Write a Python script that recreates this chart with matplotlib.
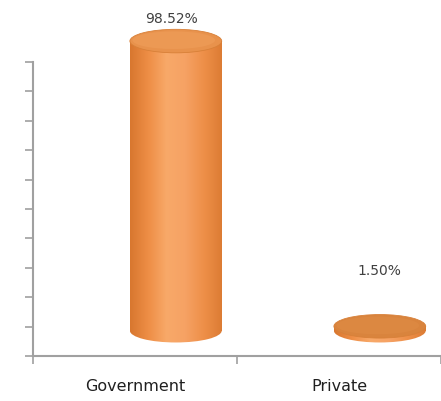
import numpy as np
import matplotlib
matplotlib.use("Agg")
import matplotlib.pyplot as plt
from matplotlib.patches import Ellipse, Rectangle
from matplotlib.colors import LinearSegmentedColormap

categories = ["Government", "Private"]
values = [98.52, 1.50]
value_labels = ["98.52%", "1.50%"]

fig = plt.figure(figsize=(4.41, 4.02), dpi=100)
ax = fig.add_axes([33/441, 45/402, 408/441, 294/402])
ax.set_xlim(-0.5, 1.5)
ax.set_ylim(0, 100)

base = 8.6
dx = 0.2
width = 0.45
eh = 8.0

body_cmap = LinearSegmentedColormap.from_list(
    "body", ["#D8772F", "#EE8E46", "#F8A969", "#F6A264", "#EE9049", "#DC7C34"])
grad = np.linspace(0, 1, 256).reshape(1, -1)

for i, v in enumerate(values):
    cx = i + dx
    x0, x1 = cx - width/2, cx + width/2
    top = base + v
    # body
    rect = Rectangle((x0, base), width, v, transform=ax.transData)
    im = ax.imshow(grad, cmap=body_cmap, aspect="auto",
                   extent=(x0, x1, base - eh, top), zorder=2)
    im.set_clip_box(None)
    im.set_clip_path(rect)
    # bottom ellipse
    bell = Ellipse((cx, base), width, eh, transform=ax.transData)
    im2 = ax.imshow(grad, cmap=body_cmap, aspect="auto",
                    extent=(x0, x1, base - eh, top), zorder=2)
    im2.set_clip_box(None)
    im2.set_clip_path(bell)
    # top ellipse
    tcol = "#E8924C" if i == 0 else "#D9843D"
    tell = Ellipse((cx, top), width, eh, facecolor=tcol,
                   edgecolor="#D88038", linewidth=0.6, zorder=3, clip_on=False)
    ax.add_patch(tell)
    inner = Ellipse((cx - 0.01, top + 0.3), width * 0.9, eh * 0.75,
                    facecolor="#EE9C58" if i == 0 else "#DE8A44",
                    edgecolor="none", zorder=3, clip_on=False, alpha=0.7)
    ax.add_patch(inner)

ax.set_xlim(-0.5, 1.5)
ax.set_ylim(0, 100)

label_offset = [8.0, 19.0]
label_dx = [-0.02, 0.0]
for i, (v, lab) in enumerate(zip(values, value_labels)):
    ax.text(i + dx + label_dx[i], base + v + label_offset[i], lab,
            ha="center", va="center", fontsize=10, color="#404040",
            clip_on=False)

for s in ["top", "right"]:
    ax.spines[s].set_visible(False)
for s in ["left", "bottom"]:
    ax.spines[s].set_color("#A0A0A0")
    ax.spines[s].set_linewidth(1.5)

ax.set_yticks(np.arange(0, 101, 10))
ax.set_yticklabels([])
ax.tick_params(axis="y", direction="out", length=6, width=1.2, color="#A0A0A0")
ax.set_xticks([-0.5, 0.5, 1.5])
ax.set_xticklabels([])
ax.set_xticks([0, 1], minor=True)
ax.set_xticklabels(categories, minor=True, fontsize=11.5, color="#202020")
ax.tick_params(axis="x", which="major", direction="out", length=6, width=1.2,
               color="#A0A0A0")
ax.tick_params(axis="x", which="minor", length=0, pad=16)

fig.savefig("out.png", dpi=100)
